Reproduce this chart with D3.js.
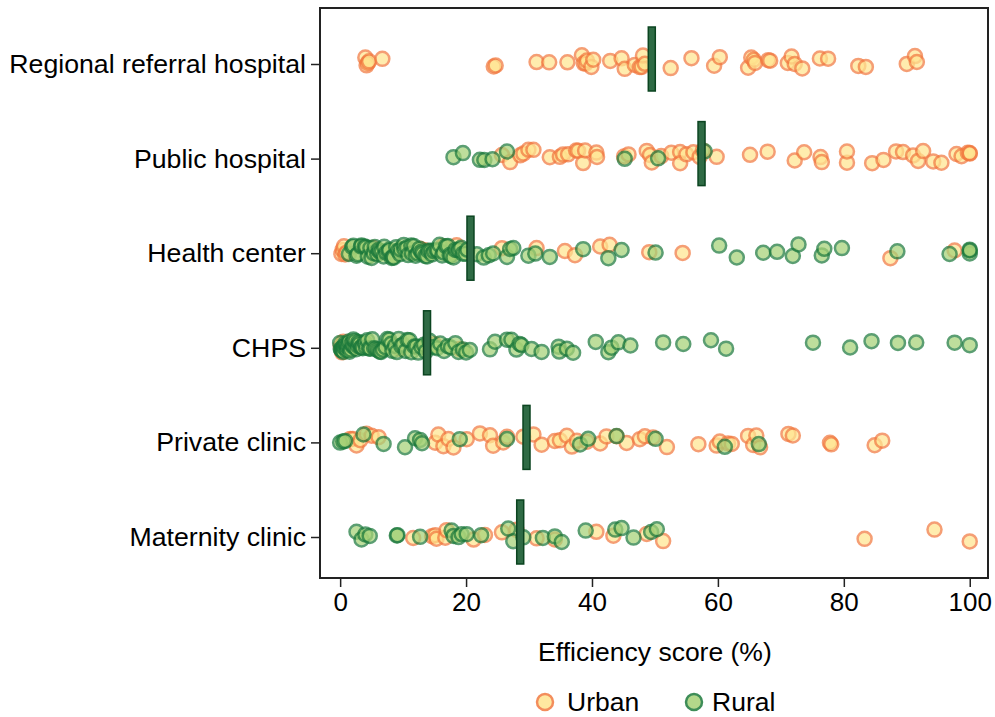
<!DOCTYPE html>
<html>
<head>
<meta charset="utf-8">
<script src="https://cdn.jsdelivr.net/npm/d3@7"></script>
<style>
  body { margin: 0; background: #fff; }
  text { font-family: "Liberation Sans", Arial, sans-serif; }
</style>
</head>
<body>
<div id="svgCanvas"></div>
<script>
const categories = ["Regional referral hospital", "Public hospital", "Health center", "CHPS", "Private clinic", "Maternity clinic"]
const xTicks = [0, 20, 40, 60, 80, 100]

// efficiency scores, per facility type
const regionalUrban = [4.0, 4.2, 4.4, 4.6, 6.7, 24.4, 24.7, 31.2, 33.2, 36.1, 38.4, 38.7, 39.0, 39.2, 39.9, 40.2, 42.9, 44.7, 45.2, 46.8, 47.6, 47.9, 48.1, 48.4,
    52.5, 55.8, 59.4, 60.3, 64.8, 65.3, 65.7, 65.9, 68.0, 68.3, 71.1, 71.7, 72.2, 73.4, 76.2, 77.5, 82.3, 83.5, 90.0, 91.3, 91.6]
const regionalRural = []

const publicUrban = [25.7, 27.0, 28.6, 29.1, 29.9, 30.7, 33.3, 34.9, 35.4, 36.2, 37.5, 37.8, 38.6, 38.9, 40.7, 40.8, 45.1, 45.8, 48.7, 49.2, 49.5,
    51.0, 52.6, 54.0, 54.0, 55.0, 56.1, 57.1, 57.6, 59.8, 65.1, 67.9, 72.2, 73.7, 76.3, 76.5, 80.5, 80.5, 84.5, 86.3, 88.3, 89.4, 91.0, 91.8,
    92.6, 94.2, 95.5, 97.9, 98.7, 99.7, 100, 100]
const publicRural = [18.0, 19.5, 22.2, 22.9, 24.2, 26.5, 45.2, 50.5, 57.9]

const healthUrban = [0.2, 0.4, 0.6, 0.8, 1.0, 5.2, 5.6, 12.7, 13.4, 16.3, 18.5, 25.7, 31.2, 35.7, 37.3, 41.3, 42.8, 49.1, 54.4, 87.4, 97.6]
const healthRural = [1.4, 1.9, 2.1, 2.6, 2.8, 3.3, 3.4, 3.9, 4.1, 4.4, 4.8, 5.0, 5.3, 5.5, 5.9, 6.1, 6.3, 6.6, 6.9, 7.0, 7.3, 7.7, 7.8,
    8.2, 8.4, 8.5, 8.9, 9.2, 9.5, 9.6, 10.1, 10.2, 10.6, 10.8, 11.3, 11.4, 11.7, 12.0, 12.3, 12.6, 12.9, 13.1, 13.5, 13.8, 14.0, 14.4,
    14.6, 14.9, 15.3, 15.5, 15.8, 16.2, 16.4, 16.8, 17.1, 17.4, 17.6, 18.0, 18.3, 18.7, 18.9, 19.2, 19.5, 19.9, 20.2,
    21.7, 22.8, 23.6, 24.3, 26.5, 27.0, 27.5, 29.9, 31.0, 33.3, 38.6, 42.6, 44.7, 50.1, 60.2, 63.0, 67.2, 69.4, 71.9, 72.8, 76.5, 76.9,
    79.7, 88.5, 96.8, 100, 100, 100]

const chpsUrban = [0.1, 0.3, 0.5, 0.8, 1.2, 1.6, 2.0, 9.5, 15.0, 19.0]
const chpsRural = [0.0, 0.1, 0.2, 0.3, 0.4, 0.5, 0.6, 0.8, 0.9, 1.0, 1.1, 1.3, 1.4, 1.5, 1.7, 1.8, 2.0, 2.1, 2.3, 2.4, 2.6, 2.8, 2.9,
    3.1, 3.3, 3.4, 3.6, 3.9, 4.1, 4.3, 4.6, 4.8, 5.1, 5.4, 5.7, 6.0, 6.3, 6.5, 6.8, 7.2, 7.5, 7.8, 8.1, 8.3, 8.7, 9.0, 9.3, 9.7,
    10.0, 10.4, 10.7, 11.0, 11.3, 11.8, 12.1, 12.4, 12.9, 13.3, 13.6, 14.2, 14.9, 15.4, 15.9, 16.5, 17.1, 17.6, 18.3, 18.8, 19.5, 20.0, 20.6,
    23.8, 24.6, 26.5, 27.2, 28.0, 28.5, 28.8, 30.4, 32.0, 34.7, 34.8, 36.0, 37.0, 40.6, 42.6, 43.1, 44.2, 46.1, 51.3, 54.5, 58.9, 61.3,
    75.1, 81.0, 84.4, 88.6, 91.5, 97.6, 100]

const privateUrban = [1.6, 2.0, 2.6, 3.2, 4.2, 5.0, 6.1, 15.1, 15.6, 16.4, 17.2, 18.0, 20.1, 22.2, 23.8, 24.3, 25.9, 26.5, 29.1, 30.7, 32.0,
    34.1, 34.9, 36.0, 36.8, 37.6, 39.2, 41.3, 42.3, 43.9, 45.5, 47.6, 48.4, 49.7, 51.9, 56.9, 59.8, 60.3, 61.6, 62.2, 64.8, 65.6, 66.1, 66.7,
    71.2, 71.9, 77.8, 78.0, 84.9, 86.1]
const privateRural = [0.0, 0.5, 0.8, 3.7, 6.9, 10.3, 11.9, 12.7, 13.0, 19.0, 26.5, 38.1, 39.4, 43.9, 50.1, 61.1, 66.5]

const maternityUrban = [11.6, 14.6, 15.1, 15.3, 16.7, 16.9, 21.2, 23.0, 25.7, 28.0, 31.2, 34.1, 40.7, 43.4, 48.7, 51.3, 83.3, 94.4, 100]
const maternityRural = [2.6, 3.4, 4.0, 4.7, 9.0, 9.1, 12.7, 17.7, 18.0, 18.8, 19.3, 20.1, 22.4, 26.7, 27.5, 29.1, 32.2, 34.1, 35.2, 39.0,
    43.7, 44.7, 46.6, 49.4, 50.3]

const medians = [49.5, 57.4, 20.7, 13.8, 29.6, 28.6]

const urbanSeries = [regionalUrban, publicUrban, healthUrban, chpsUrban, privateUrban, maternityUrban]
const ruralSeries = [regionalRural, publicRural, healthRural, chpsRural, privateRural, maternityRural]

const margin = {top: 8, right: 7, bottom: 139, left: 320}, width = 668, height = 570;
const pointRadius = 7
const urbanStyle = {fill: "#ffe590", stroke: "#f27a40"}
const ruralStyle = {fill: "#a6d277", stroke: "#1d7a3c"}

const xScale = d3.scaleLinear().domain([-3.2, 102.9]).range([0, width]);
const yScale = d3.scalePoint().domain(categories).range([56, 529]);

let svg = d3.select("#svgCanvas")
    .append("svg")
    .attr("width", width + margin.left + margin.right)
    .attr("height", height + margin.top + margin.bottom)
    .append("g")
    .attr("transform", "translate(" + margin.left + "," + margin.top + ")");

// fixed vertical spread (hash of the index) so overlapping points stay visible
function jitter(i) {
    let h = Math.sin(i * 12.9898 + 78.233) * 43758.5453
    h = h - Math.floor(h)
    return (h - 0.5) * 14 - 2
}

function drawPoints(series, style, offset) {
    series.forEach((values, c) => {
        svg.append("g")
            .selectAll("circle")
            .data(values)
            .enter().append("circle")
            .attr("cx", d => xScale(d))
            .attr("cy", (d, i) => yScale(categories[c]) + jitter(i + c * 131 + offset))
            .attr("r", pointRadius)
            .style("fill", style.fill)
            .style("stroke", style.stroke)
            .style("stroke-width", 2.5)
            .style("opacity", 0.72)
    })
}

drawPoints(urbanSeries, urbanStyle, 0)
drawPoints(ruralSeries, ruralStyle, 1000)

// median bars
svg.append("g")
    .selectAll("rect")
    .data(medians)
    .enter().append("rect")
    .attr("x", d => xScale(d) - 3.5)
    .attr("y", (d, i) => yScale(categories[i]) - 37)
    .attr("width", 7)
    .attr("height", 64)
    .style("fill", "#2f6b45")
    .style("stroke", "#0b4420")
    .style("stroke-width", 1.5)

// frame
svg.append("rect")
    .attr("width", width)
    .attr("height", height)
    .style("fill", "none")
    .style("stroke", "#222")
    .style("stroke-width", 2)

let xAxis = svg.append("g")
    .attr("transform", "translate(0," + height + ")")
    .call(d3.axisBottom(xScale).tickValues(xTicks).tickSize(9).tickPadding(6));
xAxis.select(".domain").remove()
xAxis.selectAll("line").attr("stroke", "#222").attr("stroke-width", 1.5)
xAxis.selectAll("text").style("font-size", "26px").attr("fill", "#000")

let yAxis = svg.append("g")
    .call(d3.axisLeft(yScale).tickSize(9).tickPadding(5));
yAxis.select(".domain").remove()
yAxis.selectAll("line").attr("stroke", "#222").attr("stroke-width", 1.5)
yAxis.selectAll("text").style("font-size", "26.7px").attr("fill", "#000")

svg.append("text")
    .attr("x", xScale(50))
    .attr("y", height + 83)
    .attr("text-anchor", "middle")
    .style("font-size", "26.5px")
    .text("Efficiency score (%)")

// legend
const legendItems = [{label: "Urban", style: urbanStyle, x: 225, gap: 22}, {label: "Rural", style: ruralStyle, x: 374, gap: 18}]
let legend = svg.append("g").attr("transform", "translate(0," + (height + 124) + ")")
legendItems.forEach(item => {
    legend.append("circle")
        .attr("cx", item.x)
        .attr("cy", 0)
        .attr("r", 8)
        .style("fill", item.style.fill)
        .style("stroke", item.style.stroke)
        .style("stroke-width", 2.5)
        .style("opacity", 0.85)
    legend.append("text")
        .attr("x", item.x + item.gap)
        .attr("y", 9)
        .style("font-size", "26.5px")
        .text(item.label)
})
</script>
</body>
</html>
